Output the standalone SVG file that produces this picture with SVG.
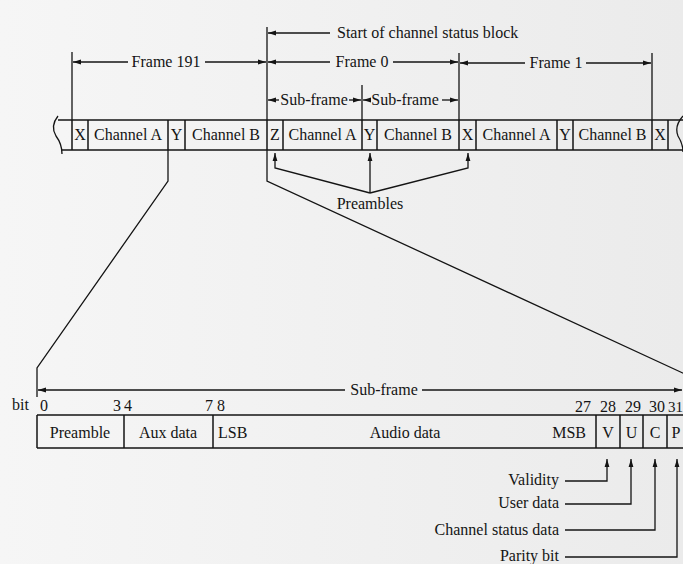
<svg xmlns="http://www.w3.org/2000/svg" width="683" height="564" viewBox="0 0 683 564">
<defs>
<marker id="ah" markerWidth="8" markerHeight="6" refX="8" refY="3" orient="auto" markerUnits="userSpaceOnUse"><path d="M0,0.6 L8,3 L0,5.4 z" fill="#141414"/></marker>
<linearGradient id="pg" x1="0" y1="0" x2="1" y2="0"><stop offset="0" stop-color="#f6f6f6"/><stop offset="1" stop-color="#ebebeb"/></linearGradient>
</defs>
<style>
text{font-family:"Liberation Serif","Times New Roman",serif;font-size:16px;fill:#141414}
.m{text-anchor:middle}
.e{text-anchor:end}
.ln{stroke:#141414;stroke-width:1.3;fill:none}
.bx{stroke:#141414;stroke-width:1.5;fill:none}
.ar{marker-end:url(#ah)}
</style>
<rect width="683" height="564" fill="url(#pg)"/>

<g id="frame-strip">
  <path class="bx" d="M58,120 H683 M62,150 H683"/>
  <path class="ln" d="M58,116 Q50,126 56,136 Q62,144 62,154"/>
  <path class="ln" d="M683,116 Q674,126 678,136 Q683,144 683,152"/>
  <path class="bx" d="M72,120 V150 M88,120 V150 M168,120 V150 M185,120 V150 M267,120 V150 M283,120 V150 M362,120 V150 M377,120 V150 M459,120 V150 M476,120 V150 M557,120 V150 M573,120 V150 M652,120 V150 M668,120 V150"/>
  <g id="cell-x1"><text class="m" x="80" y="140">X</text></g>
  <g id="cell-a1"><text class="m" x="128" y="140">Channel A</text></g>
  <g id="cell-y1"><text class="m" x="176.5" y="140">Y</text></g>
  <g id="cell-b1"><text class="m" x="226" y="140">Channel B</text></g>
  <g id="cell-z"><text class="m" x="275" y="140">Z</text></g>
  <g id="cell-a2"><text class="m" x="322.5" y="140">Channel A</text></g>
  <g id="cell-y2"><text class="m" x="369.5" y="140">Y</text></g>
  <g id="cell-b2"><text class="m" x="418" y="140">Channel B</text></g>
  <g id="cell-x2"><text class="m" x="467.5" y="140">X</text></g>
  <g id="cell-a3"><text class="m" x="516.5" y="140">Channel A</text></g>
  <g id="cell-y3"><text class="m" x="565" y="140">Y</text></g>
  <g id="cell-b3"><text class="m" x="612.5" y="140">Channel B</text></g>
  <g id="cell-x3"><text class="m" x="660" y="140">X</text></g>
</g>

<g id="labels-top">
  <text x="337" y="38">Start of channel status block</text>
  <text class="m" x="166" y="67">Frame 191</text>
  <text class="m" x="362" y="67">Frame 0</text>
  <text class="m" x="556" y="68">Frame 1</text>
  <text class="m" x="314" y="105">Sub-frame</text>
  <text class="m" x="405" y="105">Sub-frame</text>
  <text class="m" x="370" y="209">Preambles</text>
</g>

<g id="subframe-box">
  <path class="bx" d="M37,415 H683 M37,448 H683 M37,415 V448 M124,415 V448 M213,415 V448 M596,415 V448 M620,415 V448 M643,415 V448 M667,415 V448"/>
  <g id="bits">
    <text x="12" y="410">bit</text>
    <text x="40" y="411">0</text>
    <text x="113" y="411">3</text>
    <text x="124" y="411">4</text>
    <text x="205" y="411">7</text>
    <text x="217" y="411">8</text>
    <text x="575" y="412">27</text>
    <text x="600" y="412">28</text>
    <text x="625" y="412">29</text>
    <text x="649" y="412">30</text>
    <text x="668" y="412" style="font-size:15px">31</text>
  </g>
  <g id="f-preamble"><text class="m" x="80" y="438">Preamble</text></g>
  <g id="f-aux"><text class="m" x="168" y="438">Aux data</text></g>
  <g id="f-lsb"><text x="218" y="438">LSB</text></g>
  <g id="f-audio"><text class="m" x="405" y="438">Audio data</text></g>
  <g id="f-msb"><text class="e" x="586" y="438">MSB</text></g>
  <g id="f-v"><text class="m" x="608" y="438">V</text></g>
  <g id="f-u"><text class="m" x="631.5" y="438">U</text></g>
  <g id="f-c"><text class="m" x="655" y="438">C</text></g>
  <g id="f-p"><text class="m" x="676" y="438">P</text></g>
  <text class="m" x="384" y="395">Sub-frame</text>
</g>

<g id="labels-bottom">
  <text class="e" x="559" y="485">Validity</text>
  <text class="e" x="559" y="508">User data</text>
  <text class="e" x="559" y="535">Channel status data</text>
  <text class="e" x="559" y="561">Parity bit</text>
</g>

<g id="connectors">
  <path class="ln" d="M72,52 V120 M267,27 V120 M362,85 V120 M459,53 V120 M652,53 V120"/>
  <path class="ln ar" d="M330,33 H268"/>
  <path class="ln ar" d="M128,62 H73"/>
  <path class="ln ar" d="M205,62 H266"/>
  <path class="ln ar" d="M330,62 H268"/>
  <path class="ln ar" d="M393,62 H458"/>
  <path class="ln ar" d="M525,63 H460"/>
  <path class="ln ar" d="M586,63 H651"/>
  <path class="ln ar" d="M279,100 H268"/>
  <path class="ln ar" d="M349,100 H361"/>
  <path class="ln ar" d="M370,100 H363"/>
  <path class="ln ar" d="M442,100 H458"/>
  <path class="ln ar" d="M370,193 L275,168 V153"/>
  <path class="ln ar" d="M370,193 V153"/>
  <path class="ln ar" d="M370,193 L468,168 V153"/>
  <path class="ln" d="M168,150 V181 L37,368 V397"/>
  <path class="ln" d="M267,150 V181 L700,381"/>
  <path class="ln ar" d="M345,390 H38"/>
  <path class="ln ar" d="M422,390 H682"/>
  <path class="ln ar" d="M565,481 H607 V459"/>
  <path class="ln ar" d="M565,504 H631 V459"/>
  <path class="ln ar" d="M565,530 H655 V459"/>
  <path class="ln ar" d="M565,557 H677 V459"/>
</g>
</svg>
